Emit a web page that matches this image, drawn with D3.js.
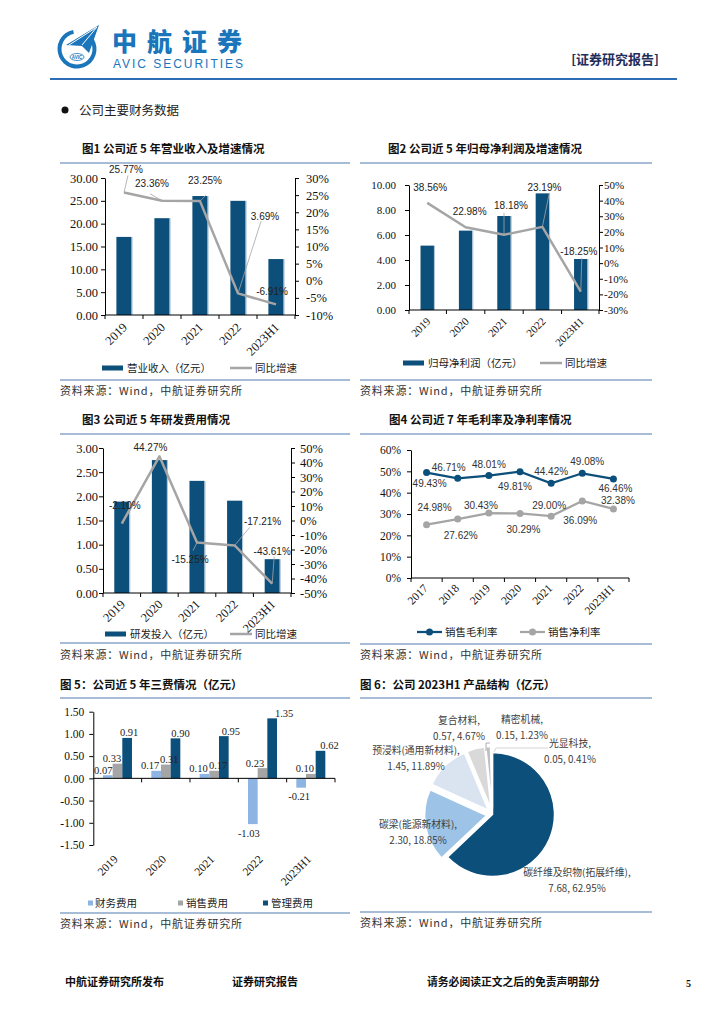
<!DOCTYPE html>
<html>
<head>
<meta charset="utf-8">
<script src="https://cdn.jsdelivr.net/npm/d3@7"></script>
<style>
  body { margin: 0; background: #fff; }
  svg { display: block; }
</style>
</head>
<body>
<script>
// ---- data ----
const years5 = ['2019', '2020', '2021', '2022', '2023H1'];
const years7 = ['2017', '2018', '2019', '2020', '2021', '2022', '2023H1'];

const revenue = [17.1, 21.2, 26.05, 25.0, 12.25];          // 营业收入 亿元
const revenueGrowth = [25.77, 23.36, 23.25, -3.69, -6.91];  // 同比增速 %
const revenueGrowthText = ['25.77%', '23.36%', '23.25%', '3.69%', '-6.91%'];

const netProfit = [5.15, 6.35, 7.52, 9.33, 4.08];           // 归母净利润 亿元
const netProfitGrowth = [38.56, 22.98, 18.18, 23.19, -18.25];

const rdSpend = [1.89, 2.75, 2.32, 1.91, 0.70];             // 研发投入 亿元
const rdGrowth = [-2.10, 44.27, -15.25, -17.21, -43.61];

const grossMargin = [49.43, 46.71, 48.01, 49.81, 44.42, 49.08, 46.46];
const netMargin = [24.98, 27.62, 30.43, 30.29, 29.00, 36.09, 32.38];

const finExpense = [0.07, 0.17, 0.10, -1.03, -0.21];
const salesExpense = [0.33, 0.31, 0.17, 0.23, 0.10];
const adminExpense = [0.91, 0.90, 0.95, 1.35, 0.62];

const productNames = ['碳纤维及织物(拓展纤维)', '碳梁(能源新材料)', '预浸料(通用新材料)', '复合材料', '精密机械', '光显科技'];
const productValues = [7.68, 2.30, 1.45, 0.57, 0.15, 0.05];
const productShares = [62.95, 18.85, 11.89, 4.67, 1.23, 0.41];

// ---- styles ----
const SERIF = '"Liberation Serif","DejaVu Serif",serif';
const SANS = '"Liberation Sans",Arial,sans-serif';
const CJK = '"Noto Sans CJK SC","Noto Sans",sans-serif';
const BLUE = '#0c4f7a';
const GRAY = '#a5a5a5';
const LBLUE = '#8db4e2';
const FRAME = '#8aa6c8';
const LOGO = '#1a75bb';

const svg = d3.select('body').append('svg')
  .attr('width', 724).attr('height', 1024)
  .style('background', '#fff');

const pct = d => d + '%';
const fix2 = d => d.toFixed(2);

// ---- page header ----
function drawHeader() {
  const g = svg.append('g');
  g.append('path')
    .attr('transform', 'translate(77,49)')
    .attr('d', d3.arc()({ innerRadius: 15.5, outerRadius: 19.5, startAngle: 0.8, endAngle: 2 * Math.PI - 0.2 }))
    .attr('fill', LOGO);
  // paper plane
  g.append('path').attr('d', 'M66,45 L99,25 L89,53 L82,46 Z').attr('fill', LOGO);
  g.append('path').attr('d', 'M69,45 L97,27 L82,45').attr('fill', 'none').attr('stroke', '#fff').attr('stroke-width', 1);
  g.append('ellipse').attr('cx', 77).attr('cy', 57).attr('rx', 7).attr('ry', 3.5).attr('fill', '#fff').attr('stroke', LOGO).attr('stroke-width', 0.8);
  g.append('text').attr('x', 77).attr('y', 59).attr('text-anchor', 'middle')
    .attr('font-family', SANS).attr('font-size', 4.5).attr('font-weight', 'bold').attr('fill', LOGO).text('AVIC');

  g.append('text').attr('x', 112).attr('y', 50.5)
    .attr('font-family', CJK).attr('font-weight', 900).attr('font-size', 25)
    .attr('letter-spacing', 10).attr('fill', LOGO).text('中航证券');
  g.append('text').attr('x', 113).attr('y', 68)
    .attr('font-family', SANS).attr('font-size', 12)
    .attr('textLength', 130).attr('lengthAdjust', 'spacing').attr('fill', LOGO).text('AVIC SECURITIES');

  g.append('text').attr('x', 659).attr('y', 64).attr('text-anchor', 'end')
    .attr('font-family', CJK).attr('font-weight', 'bold').attr('font-size', 13)
    .attr('fill', '#1f2d5a').text('[证券研究报告]');

  g.append('line').attr('x1', 50).attr('x2', 677).attr('y1', 79).attr('y2', 79)
    .attr('stroke', '#2e6db5').attr('stroke-width', 2);

  g.append('circle').attr('cx', 65).attr('cy', 110).attr('r', 3.5).attr('fill', '#111');
  g.append('text').attr('x', 79).attr('y', 114.5)
    .attr('font-family', CJK).attr('font-size', 12.5).attr('fill', '#222').text('公司主要财务数据');
}

// ---- panel frame: title, rules, source ----
function drawPanel(p) {
  const g = svg.append('g');
  g.append('text').attr('x', p.titleX).attr('y', p.titleY)
    .attr('font-family', CJK).attr('font-weight', 'bold').attr('font-size', 11.5)
    .attr('fill', '#111').text(p.title);
  g.append('line').attr('x1', p.x0).attr('x2', p.x1).attr('y1', p.ruleTop).attr('y2', p.ruleTop)
    .attr('stroke', FRAME).attr('stroke-width', 1.5);
  g.append('line').attr('x1', p.x0).attr('x2', p.x1).attr('y1', p.ruleBottom).attr('y2', p.ruleBottom)
    .attr('stroke', FRAME).attr('stroke-width', 1.5);
  g.append('text').attr('x', p.x0).attr('y', p.sourceY)
    .attr('font-family', CJK).attr('font-size', 11).attr('letter-spacing', 0.8)
    .attr('fill', '#333').text('资料来源：Wind，中航证券研究所');
}

function styleAxis(sel, fontSize) {
  sel.select('.domain').attr('stroke', '#000').attr('stroke-width', 1);
  sel.selectAll('.tick line').attr('stroke', '#000');
  sel.selectAll('.tick text').attr('font-family', SERIF).attr('font-size', fontSize).attr('fill', '#111');
}

// axis line with ticks between categories
function categoryAxis(g, x, yPos, left, right) {
  g.append('line').attr('x1', left).attr('x2', right).attr('y1', yPos).attr('y2', yPos)
    .attr('stroke', '#000');
  const bounds = x.domain().map(d => x(d) - x.step() * x.paddingInner() / 2).slice(1);
  g.selectAll(null).data([left, ...bounds, right]).join('line')
    .attr('x1', d => d).attr('x2', d => d)
    .attr('y1', yPos).attr('y2', yPos + 4).attr('stroke', '#000');
}

// category labels rotated -45deg
function rotatedLabels(g, x, baseY, dx, dy, fontSize) {
  g.selectAll(null).data(x.domain()).join('text')
    .attr('transform', d => `translate(${x(d) + x.bandwidth() / 2 + dx},${baseY + dy}) rotate(-45)`)
    .attr('text-anchor', 'end')
    .attr('font-family', SERIF).attr('font-size', fontSize).attr('fill', '#111')
    .text(d => d);
}

// ---- bar + growth line on two axes ----
function comboChart(c) {
  const g = svg.append('g');
  const x = d3.scaleBand().domain(c.cats).range([c.left, c.right])
    .paddingInner(c.padInner).paddingOuter(c.padOuter);
  const yL = d3.scaleLinear().domain(c.leftDomain).range([c.bottom, c.top]);
  const yR = d3.scaleLinear().domain(c.rightDomain).range([c.bottom, c.top]);
  const cx = d => x(d) + x.bandwidth() / 2;

  g.selectAll('rect.bar').data(c.bars).join('rect')
    .attr('x', (d, i) => x(c.cats[i]))
    .attr('y', d => yL(d))
    .attr('width', x.bandwidth())
    .attr('height', d => yL(0) - yL(d))
    .attr('fill', BLUE);
  g.selectAll('line.edge').data(c.bars).join('line')
    .attr('x1', (d, i) => x(c.cats[i]) + x.bandwidth() + 0.5)
    .attr('x2', (d, i) => x(c.cats[i]) + x.bandwidth() + 0.5)
    .attr('y1', d => yL(d)).attr('y2', yL(0))
    .attr('stroke', '#a9c0d6').attr('stroke-width', 1);

  const la = g.append('g').attr('transform', `translate(${c.left},0)`)
    .call(d3.axisLeft(yL).tickValues(c.leftTicks).tickFormat(fix2)
      .tickSize(4).tickSizeOuter(0).tickPadding(c.leftPad));
  styleAxis(la, c.tickFont);
  const ra = g.append('g').attr('transform', `translate(${c.right},0)`)
    .call(d3.axisRight(yR).tickValues(c.rightTicks).tickFormat(pct)
      .tickSize(4).tickSizeOuter(0).tickPadding(c.rightPad));
  styleAxis(ra, c.tickFont);

  categoryAxis(g, x, c.bottom, c.left, c.right);
  rotatedLabels(g, x, c.bottom, c.labDx, c.labDy, c.tickFont);

  const pts = c.line.map((v, i) => [cx(c.cats[i]), yR(v)]);
  g.append('path').datum(pts)
    .attr('d', d3.line())
    .attr('fill', 'none').attr('stroke', GRAY).attr('stroke-width', 2.5)
    .attr('stroke-linejoin', 'round');

  c.labelLayout.forEach((l, i) => {
    const [px, py] = pts[i];
    if (l.leader) {
      g.append('line').attr('x1', px + l.leader[0]).attr('y1', py + l.leader[1])
        .attr('x2', px).attr('y2', py).attr('stroke', GRAY).attr('stroke-width', 0.8);
    }
    g.append('text').attr('x', px + l.dx).attr('y', py + l.dy).attr('dy', '0.35em')
      .attr('text-anchor', 'middle').attr('font-family', SANS).attr('font-size', 10)
      .attr('fill', '#222').text(c.lineText[i]);
  });

  // legend
  const lg = g.append('g');
  lg.append('rect').attr('x', c.legend[0]).attr('y', c.legendY - 2.5).attr('width', 21).attr('height', 5).attr('fill', BLUE);
  lg.append('text').attr('x', c.legend[0] + 25).attr('y', c.legendY).attr('dy', '0.35em')
    .attr('font-family', CJK).attr('font-size', 10.5).attr('fill', '#222').text(c.barName);
  lg.append('line').attr('x1', c.legend[1]).attr('x2', c.legend[1] + 22)
    .attr('y1', c.legendY).attr('y2', c.legendY).attr('stroke', GRAY).attr('stroke-width', 2.5);
  lg.append('text').attr('x', c.legend[1] + 25).attr('y', c.legendY).attr('dy', '0.35em')
    .attr('font-family', CJK).attr('font-size', 10.5).attr('fill', '#222').text('同比增速');
}

// ---- margins chart (two lines with markers) ----
function marginChart() {
  const g = svg.append('g');
  const left = 411, right = 629, top = 450, bottom = 578;
  const x = d3.scaleBand().domain(years7).range([left, right]).paddingInner(0).paddingOuter(0);
  const y = d3.scaleLinear().domain([0, 60]).range([bottom, top]);
  const ya = g.append('g').attr('transform', `translate(${left},0)`)
    .call(d3.axisLeft(y).tickValues(d3.range(0, 61, 10)).tickFormat(pct)
      .tickSize(4).tickSizeOuter(0).tickPadding(6));
  styleAxis(ya, 11.5);
  categoryAxis(g, x, bottom, left, right);
  rotatedLabels(g, x, bottom, 2, 11, 11.5);

  const series = [
    { vals: grossMargin, color: BLUE,
      lay: [[3, 10.5], [-9, -11], [0, -10.6], [-5, 15], [0, -12], [5, -12], [2, 9.5]] },
    { vals: netMargin, color: GRAY,
      lay: [[8, -17], [3, 16], [-8, -8], [3.5, 16.6], [-2, -11], [-2, 19], [4.5, -8]] }
  ];
  series.forEach(s => {
    const pts = s.vals.map((v, i) => [x(years7[i]) + x.bandwidth() / 2, y(v)]);
    g.append('path').datum(pts).attr('d', d3.line())
      .attr('fill', 'none').attr('stroke', s.color).attr('stroke-width', 2.25);
    g.selectAll(null).data(pts).join('circle')
      .attr('cx', d => d[0]).attr('cy', d => d[1]).attr('r', 3.5).attr('fill', s.color);
    g.selectAll(null).data(pts).join('text')
      .attr('x', (d, i) => d[0] + s.lay[i][0]).attr('y', (d, i) => d[1] + s.lay[i][1])
      .attr('dy', '0.35em').attr('text-anchor', 'middle')
      .attr('font-family', SANS).attr('font-size', 10).attr('fill', '#333')
      .text((d, i) => s.vals[i].toFixed(2) + '%');
  });

  const legendY = 632;
  [[417, BLUE, '销售毛利率'], [520, GRAY, '销售净利率']].forEach(([lx, col, name]) => {
    g.append('line').attr('x1', lx).attr('x2', lx + 25).attr('y1', legendY).attr('y2', legendY)
      .attr('stroke', col).attr('stroke-width', 2.25);
    g.append('circle').attr('cx', lx + 12.5).attr('cy', legendY).attr('r', 3.5).attr('fill', col);
    g.append('text').attr('x', lx + 28).attr('y', legendY).attr('dy', '0.35em')
      .attr('font-family', CJK).attr('font-size', 10.5).attr('fill', '#222').text(name);
  });
}

// ---- three expenses grouped bars ----
function expenseChart() {
  const g = svg.append('g');
  const left = 93.3, right = 335, top = 711.7, bottom = 845;
  const x = d3.scaleBand().domain(years5).range([left, right]).paddingInner(0).paddingOuter(0);
  const y = d3.scaleLinear().domain([-1.5, 1.5]).range([bottom, top]);
  const keys = ['财务费用', '销售费用', '管理费用'];
  const xs = d3.scaleBand().domain(keys).range([-14.5, 14.5]);
  const colors = [LBLUE, GRAY, BLUE];
  // horizontal nudges of each value label, as placed in the original
  const labelDx = [[-4.5, -6, -6, -4, -2], [-5.5, 3.5, 4, -7.5, -6], [2, 5, 7, 12, 9]];
  const seriesVals = [finExpense, salesExpense, adminExpense];
  const bx = (k, i) => x(years5[i]) + x.bandwidth() / 2 + xs(keys[k]);

  const ya = g.append('g').attr('transform', `translate(${left},0)`)
    .call(d3.axisLeft(y).tickValues(d3.range(-1.5, 1.51, 0.5)).tickFormat(fix2)
      .tickSize(4).tickSizeOuter(0).tickPadding(5));
  styleAxis(ya, 11.5);

  seriesVals.forEach((vals, k) => {
    g.selectAll(null).data(vals).join('rect')
      .attr('x', (d, i) => bx(k, i)).attr('width', xs.bandwidth())
      .attr('y', d => y(Math.max(0, d))).attr('height', d => Math.abs(y(d) - y(0)))
      .attr('fill', colors[k]);
  });
  // labels after all bars so they sit on top
  seriesVals.forEach((vals, k) => {
    g.selectAll(null).data(vals).join('text')
      .attr('x', (d, i) => bx(k, i) + xs.bandwidth() / 2 + labelDx[k][i])
      .attr('y', d => d >= 0 ? y(d) - 1.5 : y(d) + 12.5)
      .attr('text-anchor', 'middle')
      .attr('font-family', SERIF).attr('font-size', 10.5).attr('fill', '#222')
      .text(d => d.toFixed(2));
  });

  // zero axis with category ticks
  g.append('line').attr('x1', left).attr('x2', right).attr('y1', y(0)).attr('y2', y(0)).attr('stroke', '#000');
  g.selectAll(null).data(years5.map(d => x(d) + x.bandwidth())).join('line')
    .attr('x1', d => d).attr('x2', d => d).attr('y1', y(0)).attr('y2', y(0) + 4).attr('stroke', '#000');
  rotatedLabels(g, x, bottom, 1, 15, 11.5);

  const legendY = 903;
  [[88, 95], [178, 186], [263, 271]].forEach(([sx, tx], k) => {
    g.append('rect').attr('x', sx).attr('y', legendY - 2.5).attr('width', 5).attr('height', 5).attr('fill', colors[k]);
    g.append('text').attr('x', tx).attr('y', legendY).attr('dy', '0.35em')
      .attr('font-family', CJK).attr('font-size', 10.5).attr('fill', '#222').text(keys[k]);
  });
}

// ---- product structure pie ----
function productPie() {
  const g = svg.append('g');
  const cx = 492.5, cy = 814.5, r = 62;
  const colors = [BLUE, '#9dc3e6', '#dae3f0', '#d9d9d9', '#bfbfbf', '#d4d4d4'];
  const slices = d3.pie().sort(null).value(d => d)(productValues);
  const arc = d3.arc().innerRadius(0).outerRadius(r);
  g.selectAll('path').data(slices).join('path')
    .attr('d', arc)
    .attr('transform', (d, i) => {
      const off = i === 0 ? 0 : 6;
      const a = (d.startAngle + d.endAngle) / 2;
      return `translate(${cx + off * Math.sin(a)},${cy - off * Math.cos(a)})`;
    })
    .attr('fill', (d, i) => colors[i])
    .attr('stroke', '#fff').attr('stroke-width', 1.5);

  // label anchors (centre of the two text lines)
  const labelPos = [[577, 872], [418, 824], [416, 750], [459, 720], [522, 719], [570, 743]];
  labelPos.forEach(([lx, ly], i) => {
    const t = g.append('text').attr('text-anchor', 'middle')
      .attr('font-family', CJK).attr('font-size', 9.8).attr('fill', '#404040');
    t.append('tspan').attr('x', lx).attr('y', ly + 3.5).text(productNames[i] + ',');
    t.append('tspan').attr('x', lx).attr('y', ly + 19.5)
      .text(productValues[i].toFixed(2) + ', ' + productShares[i].toFixed(2) + '%');
  });
  // small leaders for the thin slices
  g.append('path').attr('d', 'M490,743 L486,743 L486,751').attr('fill', 'none').attr('stroke', '#999').attr('stroke-width', 0.8);
  g.append('path').attr('d', 'M548,748 L496,748 L494,752').attr('fill', 'none').attr('stroke', '#bbb').attr('stroke-width', 0.6);
}

function drawFooter() {
  const g = svg.append('g').attr('font-family', CJK).attr('font-weight', 'bold')
    .attr('font-size', 11).attr('fill', '#111');
  g.append('text').attr('x', 65).attr('y', 986).text('中航证券研究所发布');
  g.append('text').attr('x', 232).attr('y', 986).text('证券研究报告');
  g.append('text').attr('x', 427).attr('y', 986).attr('font-size', 10.8).text('请务必阅读正文之后的免责声明部分');
  g.append('text').attr('x', 686).attr('y', 987).attr('font-family', SERIF).attr('font-size', 10).text('5');
}

drawHeader();

drawPanel({ x0: 60, x1: 350, titleX: 82, titleY: 153, title: '图1  公司近 5 年营业收入及增速情况',
  ruleTop: 163, ruleBottom: 380, sourceY: 395 });
drawPanel({ x0: 360, x1: 652, titleX: 388, titleY: 153, title: '图2  公司近 5 年归母净利润及增速情况',
  ruleTop: 163, ruleBottom: 380, sourceY: 395 });
drawPanel({ x0: 60, x1: 350, titleX: 82, titleY: 424, title: '图3  公司近 5 年研发费用情况',
  ruleTop: 434, ruleBottom: 643, sourceY: 659 });
drawPanel({ x0: 360, x1: 652, titleX: 389, titleY: 424, title: '图4  公司近 7 年毛利率及净利率情况',
  ruleTop: 434, ruleBottom: 644, sourceY: 659 });
drawPanel({ x0: 60, x1: 350, titleX: 60, titleY: 689, title: '图 5：公司近 5 年三费情况（亿元）',
  ruleTop: 698, ruleBottom: 913, sourceY: 928 });
drawPanel({ x0: 360, x1: 652, titleX: 360, titleY: 689, title: '图 6：公司 2023H1 产品结构（亿元）',
  ruleTop: 698, ruleBottom: 912, sourceY: 927 });

comboChart({
  cats: years5, bars: revenue, line: revenueGrowth, lineText: revenueGrowthText,
  left: 105, right: 295, top: 178, bottom: 315, padInner: 0.6, padOuter: 0.3,
  leftDomain: [0, 30], leftTicks: d3.range(0, 30.01, 5),
  rightDomain: [-10, 30], rightTicks: d3.range(-10, 31, 5),
  leftPad: 3, rightPad: 7, tickFont: 12.5, labDx: 4, labDy: 13,
  labelLayout: [
    { dx: 2, dy: -22.5, leader: [4, -17] },
    { dx: -10, dy: -17.7, leader: [-12, -7] },
    { dx: 5, dy: -21, leader: [6, -6] },
    { dx: 27, dy: -77, leader: [23, -72] },
    { dx: -4, dy: -13 }
  ],
  barName: '营业收入（亿元）', legend: [102, 230], legendY: 368
});

comboChart({
  cats: years5, bars: netProfit, line: netProfitGrowth,
  lineText: netProfitGrowth.map(v => v.toFixed(2) + '%'),
  left: 409, right: 599, top: 185, bottom: 310, padInner: 0.65, padOuter: 0.3,
  leftDomain: [0, 10], leftTicks: d3.range(0, 10.01, 2),
  rightDomain: [-30, 50], rightTicks: d3.range(-30, 51, 10),
  leftPad: 9, rightPad: 1, tickFont: 11, labDx: 4, labDy: 12,
  labelLayout: [
    { dx: 3, dy: -15 },
    { dx: 4, dy: -16 },
    { dx: 7, dy: -29, leader: [0, -22] },
    { dx: 2, dy: -39, leader: [7, -34] },
    { dx: -2, dy: -40, leader: [1, -34] }
  ],
  barName: '归母净利润（亿元）', legend: [403, 540], legendY: 363
});

comboChart({
  cats: years5, bars: rdSpend, line: rdGrowth,
  lineText: rdGrowth.map(v => v.toFixed(2) + '%'),
  left: 103, right: 291, top: 448, bottom: 593, padInner: 0.6, padOuter: 0.3,
  leftDomain: [0, 3], leftTicks: d3.range(0, 3.01, 0.5),
  rightDomain: [-50, 50], rightTicks: d3.range(-50, 51, 10),
  leftPad: 1, rightPad: 5, tickFont: 12.5, labDx: 4, labDy: 12,
  labelLayout: [
    { dx: 3, dy: -18.5 },
    { dx: -9, dy: -9 },
    { dx: -7, dy: 16.5, leader: [-4, 8] },
    { dx: 28, dy: -23.5, leader: [15, -18] },
    { dx: 0, dy: -32.7, leader: [2, -27] }
  ],
  barName: '研发投入（亿元）', legend: [105, 230], legendY: 634
});

marginChart();
expenseChart();
productPie();
drawFooter();
</script>
</body>
</html>
